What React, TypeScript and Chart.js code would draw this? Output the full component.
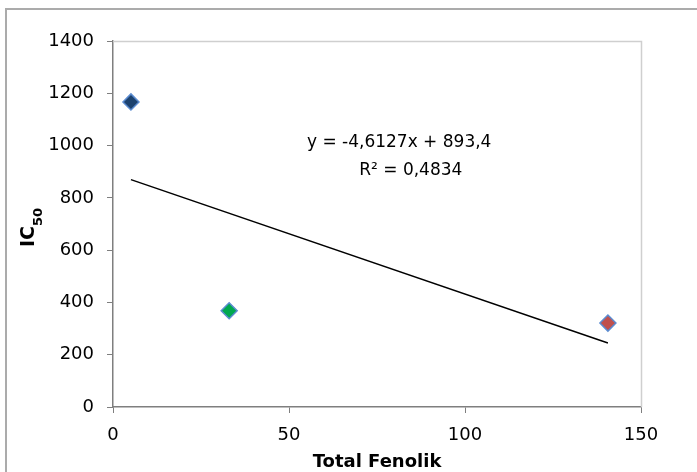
import React, { useEffect, useRef } from 'react';
import { Chart, registerables } from 'chart.js';

Chart.register(...registerables);

// ---- data ----
const xValues = [5.1, 33.0, 140.6];
const yValues = [1167, 368, 321];
const pointColors = ['#1c426f', '#00a84f', '#c0504d'];
const trendSlope = -4.6127;
const trendIntercept = 893.4;
const equationText = 'y = -4,6127x + 893,4';
const r2Text = 'R² = 0,4834';
const xTitle = 'Total Fenolik';
const yTitleMain = 'IC';
const yTitleSub = '50';
const xMin = 0;
const xMax = 150;
const xStep = 50;
const yMin = 0;
const yMax = 1400;
const yStep = 200;

const FONT = '"DejaVu Sans", Verdana, sans-serif';

export default function App() {
  const canvasRef = useRef<HTMLCanvasElement | null>(null);

  useEffect(() => {
    const canvas = canvasRef.current;
    if (!canvas) return;

    const trendX0 = xValues[0];
    const trendX1 = xValues[xValues.length - 1];
    const trendData = [
      { x: trendX0, y: trendSlope * trendX0 + trendIntercept },
      { x: trendX1, y: trendSlope * trendX1 + trendIntercept },
    ];

    const overlay = {
      id: 'overlay',
      beforeDraw(chart: any) {
        const ctx = chart.ctx;
        ctx.save();
        ctx.strokeStyle = '#ababab';
        ctx.lineWidth = 2;
        ctx.strokeRect(6, 9, 900, 900);
        ctx.restore();
      },
      afterDraw(chart: any) {
        const ctx = chart.ctx;
        const a = chart.chartArea;
        const xs = chart.scales.x;
        const ys = chart.scales.y;
        ctx.save();
        // top & right light border
        ctx.strokeStyle = '#cfcfcf';
        ctx.lineWidth = 1.5;
        ctx.beginPath();
        ctx.moveTo(a.left, Math.round(a.top) + 0.5);
        ctx.lineTo(Math.round(a.right) + 0.5, Math.round(a.top) + 0.5);
        ctx.lineTo(Math.round(a.right) + 0.5, a.bottom);
        ctx.stroke();

        // equation
        ctx.fillStyle = '#000';
        ctx.textAlign = 'center';
        ctx.textBaseline = 'alphabetic';
        ctx.font = `17px ${FONT}`;
        ctx.fillText(equationText, xs.getPixelForValue(81.3), ys.getPixelForValue(993));
        ctx.fillText(r2Text, xs.getPixelForValue(84.6), ys.getPixelForValue(886));

        // x title
        ctx.font = `bold 18px ${FONT}`;
        ctx.fillText(xTitle, (a.left + a.right) / 2, 467);

        // y title with subscript
        ctx.translate(34, 247);
        ctx.rotate(-Math.PI / 2);
        ctx.textAlign = 'left';
        ctx.font = `bold 19px ${FONT}`;
        ctx.fillText(yTitleMain, 0, 0);
        const w = ctx.measureText(yTitleMain).width;
        ctx.font = `bold 13px ${FONT}`;
        ctx.fillText(yTitleSub, w, 8);
        ctx.restore();
      },
    };

    const chart = new Chart(canvas, {
      type: 'scatter',
      data: {
        datasets: [
          {
            type: 'line',
            data: trendData,
            borderColor: '#000000',
            borderWidth: 1.5,
            pointRadius: 0,
            fill: false,
            order: 2,
          } as any,
          {
            type: 'scatter',
            data: xValues.map((x, i) => ({ x, y: yValues[i] })),
            pointStyle: 'rectRot',
            pointRadius: 8,
            pointBackgroundColor: pointColors,
            pointBorderColor: '#5b8bd0',
            pointBorderWidth: 1.5,
            order: 1,
          },
        ],
      },
      options: {
        responsive: false,
        animation: false,
        events: [],
        layout: { padding: { top: 41, right: 56, left: 0, bottom: 0 } },
        plugins: { legend: { display: false }, tooltip: { enabled: false } },
        scales: {
          x: {
            type: 'linear',
            min: xMin,
            max: xMax,
            afterFit: (s: any) => {
              s.height = 65;
            },
            ticks: {
              stepSize: xStep,
              padding: 12,
              color: '#000',
              font: { family: FONT, size: 18 },
              callback: (v: any) => String(v),
            },
            grid: {
              drawOnChartArea: false,
              drawTicks: true,
              tickLength: 6,
              color: '#7f7f7f',
            },
            border: { display: true, color: '#7f7f7f', width: 1.5 },
          },
          y: {
            type: 'linear',
            min: yMin,
            max: yMax,
            afterFit: (s: any) => {
              s.width = 113;
            },
            ticks: {
              stepSize: yStep,
              padding: 13,
              color: '#000',
              font: { family: FONT, size: 18 },
              callback: (v: any) => String(v),
            },
            grid: {
              drawOnChartArea: false,
              drawTicks: true,
              tickLength: 6,
              color: '#7f7f7f',
            },
            border: { display: true, color: '#7f7f7f', width: 1.5 },
          },
        },
      },
      plugins: [overlay],
    });

    return () => chart.destroy();
  }, []);

  return (
    <div style={{ position: 'absolute', left: 0, top: 0, width: 697, height: 472, background: '#fff' }}>
      <canvas ref={canvasRef} width={697} height={472} style={{ display: 'block' }} />
    </div>
  );
}
